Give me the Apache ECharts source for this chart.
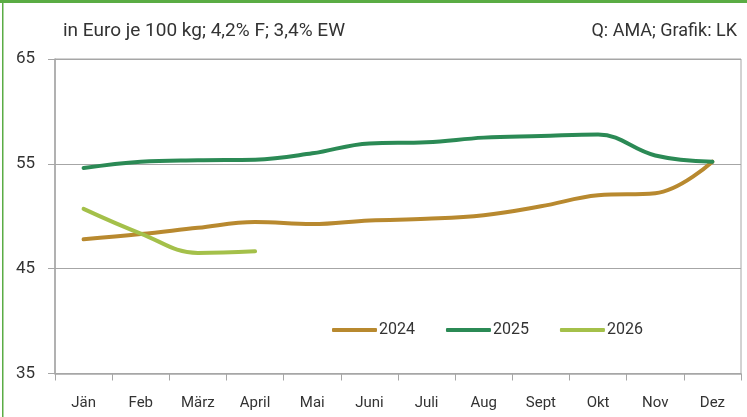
<!DOCTYPE html>
<html><head><meta charset="utf-8">
<script src="https://cdn.jsdelivr.net/npm/echarts@6/dist/echarts.min.js"></script>
<style>html,body{margin:0;padding:0;background:#fff}#c{width:747px;height:417px}</style>
</head><body><div id="c"></div>
<script>
const categories = ['Jän','Feb','März','April','Mai','Juni','Juli','Aug','Sept','Okt','Nov','Dez'];
const s2024 = [47.8, 48.3, 48.9, 49.45, 49.25, 49.6, 49.75, 50.1, 50.95, 52.0, 52.2, 55.2];
const s2025 = [54.6, 55.2, 55.35, 55.4, 56.0, 56.95, 57.05, 57.5, 57.65, 57.8, 55.8, 55.2];
const s2026 = [50.7, 48.35, 46.5, 46.65];
const yTicks = [35, 45, 55, 65];
const font = "'Roboto',sans-serif";
const chart = echarts.init(document.getElementById('c'), null, {renderer:'canvas'});
chart.setOption({
  animation:false,
  textStyle:{fontFamily:font},
  graphic:[
    {type:'rect', shape:{x:0,y:0,width:747,height:3}, style:{fill:'#5aac44'}},
    {type:'rect', shape:{x:2,y:0,width:1.5,height:417}, style:{fill:'#5aac44'}},
    {type:'text', left:63, top:22, style:{text:'in Euro je 100 kg; 4,2% F; 3,4% EW', font:'19px '+font, fill:'#333'}},
    {type:'text', right:10, top:22, style:{text:'Q: AMA; Grafik: LK', font:'18px '+font, fill:'#333'}}
  ],
  grid:{left:55, right:6, top:59, bottom:43.5, show:true, borderColor:'#a6a6a6', borderWidth:1},
  legend:{
    data:['2024','2025','2026'], left:327, top:317, itemWidth:45, itemHeight:4, itemGap:31,
    icon:'roundRect',
    textStyle:{fontSize:16, color:'#333', fontFamily:font, padding:[0,0,0,-3]}
  },
  xAxis:{
    type:'category', data:categories, boundaryGap:true,
    axisLine:{lineStyle:{color:'#a6a6a6', width:1.5}},
    axisTick:{show:true, length:7, lineStyle:{color:'#a6a6a6'}},
    axisLabel:{fontSize:15, color:'#333', margin:22, fontFamily:font}
  },
  yAxis:{
    type:'value', min:35, max:65, interval:10,
    axisLine:{show:true, lineStyle:{color:'#a6a6a6', width:1.5}},
    axisTick:{show:true, length:7, lineStyle:{color:'#a6a6a6'}},
    axisLabel:{fontSize:17, color:'#333', margin:20, fontFamily:font,
      formatter:v=>yTicks.includes(v)?String(v):''},
    splitLine:{lineStyle:{color:'#a6a6a6', width:1}}
  },
  series:[
    {name:'2024', type:'line', data:s2024, smooth:0.4, showSymbol:false, symbol:'none',
     lineStyle:{color:'#b8892f', width:4, cap:'round'}, itemStyle:{color:'#b8892f'}},
    {name:'2025', type:'line', data:s2025, smooth:0.4, showSymbol:false, symbol:'none',
     lineStyle:{color:'#2b8a55', width:4, cap:'round'}, itemStyle:{color:'#2b8a55'}},
    {name:'2026', type:'line', data:s2026, smooth:0.4, showSymbol:false, symbol:'none',
     lineStyle:{color:'#a4c04a', width:4, cap:'round'}, itemStyle:{color:'#a4c04a'}}
  ]
});
</script></body></html>
